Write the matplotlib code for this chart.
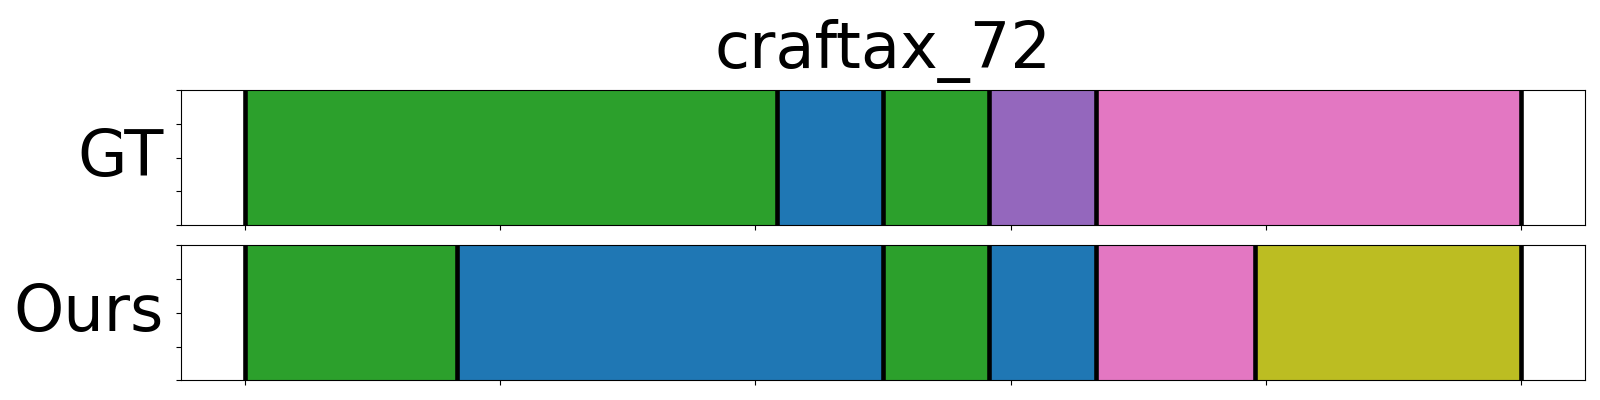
import numpy as np
import matplotlib
matplotlib.use("Agg")
import matplotlib.pyplot as plt

# segment lengths (frames) and their colors
title = "craftax_72"
rows = ["GT", "Ours"]
gt_lengths = [10, 2, 2, 2, 8]
gt_colors = ["#2ca02c", "#1f77b4", "#2ca02c", "#9467bd", "#e377c2"]
ours_lengths = [4, 8, 2, 2, 3, 5]
ours_colors = ["#2ca02c", "#1f77b4", "#2ca02c", "#1f77b4", "#e377c2", "#bcbd22"]

fig = plt.figure(figsize=(16, 4), dpi=100)
ax_gt = fig.add_axes([0.113, 0.437, 0.8776, 0.3375])
ax_ours = fig.add_axes([0.113, 0.049, 0.8776, 0.3375], sharex=ax_gt)


def draw_segments(ax, lengths, colors, label):
    total = sum(lengths)
    edges = np.concatenate([[0], np.cumsum(lengths)]) / total
    for i in range(len(lengths)):
        ax.axvspan(edges[i], edges[i + 1], color=colors[i], lw=0)
    for e in edges:
        ax.axvline(e, color="black", linewidth=3.3)
    ax.set_ylim(0, 1)
    ax.set_yticks(np.linspace(0, 1, 5))
    ax.set_yticklabels([])
    ax.set_xticks(np.linspace(0, 1, 6))
    ax.set_xticklabels([])
    ax.set_ylabel(label, rotation=0, fontsize=46, ha="right", va="center", labelpad=5)


draw_segments(ax_gt, gt_lengths, gt_colors, rows[0])
draw_segments(ax_ours, ours_lengths, ours_colors, rows[1])
ax_gt.set_xlim(-0.05, 1.05)
ax_gt.set_title(title, fontsize=46, pad=16)

plt.savefig("out.png", dpi=100)
